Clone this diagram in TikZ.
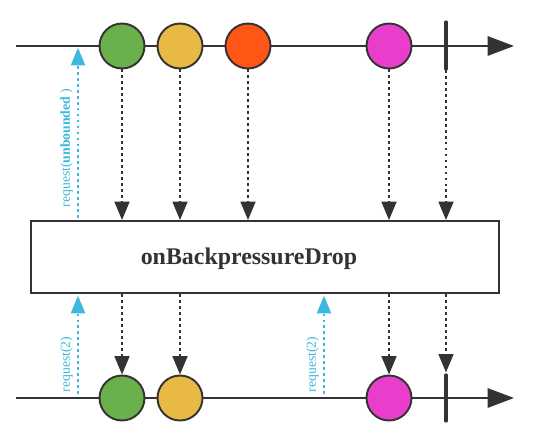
\documentclass[tikz,border=0pt]{standalone}
\usepackage{fontspec}
\setmainfont{Liberation Serif}
\usetikzlibrary{arrows.meta}

\definecolor{mgreen}{HTML}{6AB04C}
\definecolor{myellow}{HTML}{E8B944}
\definecolor{morange}{HTML}{FF5515}
\definecolor{mpink}{HTML}{E83ECB}
\definecolor{mblue}{HTML}{3DB8DE}
\definecolor{mdark}{HTML}{333333}

\tikzset{
    marble/.style={circle, draw=mdark, line width=1.1pt, minimum size=0.9cm, inner sep=0pt},
    timeline/.style={draw=mdark, line width=1.1pt, -{Triangle[length=15pt,width=11pt]}},
    endbar/.style={draw=mdark, line width=1.8pt, line cap=round},
    drop/.style={draw=mdark, line width=1.1pt, dash pattern=on 1.6pt off 1.8pt,
        -{Triangle[length=10.5pt,width=8.5pt]}},
    req/.style={draw=mblue, line width=1.1pt, dash pattern=on 1.6pt off 1.8pt,
        -{Triangle[length=10pt,width=8pt]}, shorten >=1pt},
    reqlabel/.style={rotate=90, text=mblue, inner sep=0pt, font=\fontsize{7.8}{9}\selectfont},
}

\begin{document}
\begin{tikzpicture}[x=0.02cm,y=-0.02cm]
        \useasboundingbox (0,0) rectangle (544,433);

        % operator box
        \node[draw=mdark, line width=1.1pt, minimum width=9.36cm, minimum height=1.44cm] (op) at (265,257) {};
        \node[font=\bfseries\fontsize{13.6}{16}\selectfont, text=mdark] (oplabel) at (249,259) {onBackpressureDrop};

        % source timeline
        \coordinate (tstart) at (16,46);
        \coordinate (tend) at (514,46);
        \draw[timeline] (tstart) -- (tend);
        \foreach \x/\c/\n in {122/mgreen/g,180/myellow/y,248/morange/o,389/mpink/p} {
            \node[marble, fill=\c] (top\n) at (\x,46) {};
        }
        \coordinate (topbar) at (446,46);
        \draw[endbar] (topbar) ++(0,-24) -- ++(0,47);

        % result timeline
        \coordinate (bstart) at (16,398);
        \coordinate (bend) at (514,398);
        \draw[timeline] (bstart) -- (bend);
        \foreach \x/\c/\n in {122/mgreen/g,180/myellow/y,389/mpink/p} {
            \node[marble, fill=\c] (bot\n) at (\x,398) {};
        }
        \coordinate (botbar) at (446,398);
        \draw[endbar] (botbar) ++(0,-23) -- ++(0,46);

        % emissions into the operator
        \foreach \n in {g,y,o,p} {
            \draw[drop] (top\n.south) -- (top\n.south |- op.north);
        }
        \draw[drop] (topbar) ++(0,24) -- (topbar |- op.north);

        % emissions out of the operator
        \foreach \n in {g,y,p} {
            \draw[drop] (bot\n.north |- op.south) -- (bot\n.north);
        }
        \draw[drop, shorten >=2pt] (botbar |- op.south) -- ++(0,82);

        % requests
        \coordinate (reqa) at (78,218);
        \coordinate (reqb) at (78,394);
        \coordinate (reqc) at (324,394);
        \draw[req] (reqa) -- (reqa |- tstart);
        \draw[req] (reqb) -- (reqb |- op.south);
        \draw[req] (reqc) -- (reqc |- op.south);
        \node[reqlabel] (lbla) at (66.5,148) {request(\textbf{unbounded} )};
        \node[reqlabel] (lblb) at (66.5,364.5) {request(2)};
        \node[reqlabel] (lblc) at (312.5,364.5) {request(2)};

\end{tikzpicture}
\end{document}
